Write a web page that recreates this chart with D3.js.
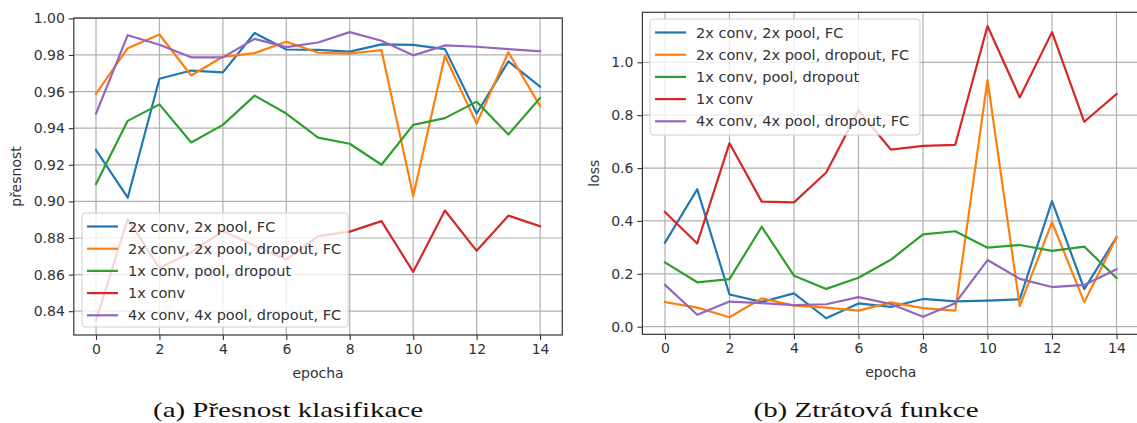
<!DOCTYPE html>
<html>
<head>
<meta charset="utf-8">
<script src="https://cdn.jsdelivr.net/npm/d3@7"></script>
<style>
html,body{margin:0;padding:0;background:#fff;}
svg{display:block;}
</style>
</head>
<body>
<svg id="chart" width="1137" height="423"></svg>
<script>
const epochs = d3.range(0, 15);
const seriesNames = ["2x conv, 2x pool, FC", "2x conv, 2x pool, dropout, FC", "1x conv, pool, dropout", "1x conv", "4x conv, 4x pool, dropout, FC"];
const seriesColors = ["#1f77b4", "#ff7f0e", "#2ca02c", "#d62728", "#9467bd"];

// accuracy (přesnost)
const accConv2Pool2FC = [0.928, 0.902, 0.967, 0.9715, 0.9705, 0.992, 0.983, 0.9828, 0.9818, 0.9858, 0.9855, 0.9832, 0.948, 0.9765, 0.9627];
const accConv2Pool2DropFC = [0.9588, 0.9837, 0.9912, 0.9688, 0.9790, 0.9810, 0.9872, 0.9812, 0.9808, 0.9826, 0.903, 0.9796, 0.9425, 0.9815, 0.952];
const accConv1PoolDrop = [0.9095, 0.944, 0.953, 0.9322, 0.9418, 0.9578, 0.948, 0.9348, 0.9315, 0.92, 0.9418, 0.9455, 0.9545, 0.9365, 0.9565];
const accConv1 = [0.835, 0.8905, 0.8636, 0.8722, 0.8838, 0.8758, 0.8682, 0.8810, 0.8835, 0.8892, 0.8615, 0.8950, 0.8730, 0.8922, 0.8864];
const accConv4Pool4DropFC = [0.948, 0.9908, 0.9856, 0.9787, 0.9787, 0.9888, 0.9843, 0.9868, 0.9925, 0.9878, 0.9798, 0.9852, 0.9845, 0.9832, 0.9820];

// loss
const lossConv2Pool2FC = [0.318, 0.52, 0.122, 0.094, 0.126, 0.032, 0.088, 0.075, 0.105, 0.096, 0.099, 0.104, 0.475, 0.142, 0.338];
const lossConv2Pool2DropFC = [0.093, 0.072, 0.036, 0.107, 0.080, 0.072, 0.061, 0.092, 0.070, 0.061, 0.933, 0.078, 0.395, 0.093, 0.337];
const lossConv1PoolDrop = [0.243, 0.168, 0.180, 0.378, 0.193, 0.143, 0.185, 0.253, 0.349, 0.361, 0.299, 0.309, 0.287, 0.303, 0.184];
const lossConv1 = [0.434, 0.315, 0.694, 0.473, 0.470, 0.583, 0.818, 0.670, 0.684, 0.688, 1.137, 0.867, 1.114, 0.775, 0.880];
const lossConv4Pool4DropFC = [0.158, 0.045, 0.095, 0.089, 0.082, 0.085, 0.112, 0.086, 0.038, 0.089, 0.252, 0.181, 0.150, 0.158, 0.217];

const xTicks = [0, 2, 4, 6, 8, 10, 12, 14];
const accTicks = [0.84, 0.86, 0.88, 0.90, 0.92, 0.94, 0.96, 0.98, 1.00];
const lossTicks = [0.0, 0.2, 0.4, 0.6, 0.8, 1.0];

const captions = ["(a) Přesnost klasifikace", "(b) Ztrátová funkce"];
const yLabels = ["přesnost", "loss"];
const xLabel = "epocha";

const svg = d3.select("#chart");
const FONT = "DejaVu Sans";

function panel(cfg) {
  const x = d3.scaleLinear().domain([-0.7, 14.7]).range([cfg.left, cfg.right]);
  const y = d3.scaleLinear().domain(cfg.yDomain).range([cfg.bottom, cfg.top]);
  const g = svg.append("g");

  const clipId = "clip" + cfg.id;
  svg.append("clipPath").attr("id", clipId).append("rect")
    .attr("x", cfg.left).attr("y", cfg.top)
    .attr("width", cfg.right - cfg.left).attr("height", cfg.bottom - cfg.top);

  // grid
  const grid = g.append("g").attr("clip-path", `url(#${clipId})`);
  grid.selectAll("line.gx").data(xTicks).join("line")
    .attr("x1", d => x(d)).attr("x2", d => x(d))
    .attr("y1", cfg.top).attr("y2", cfg.bottom)
    .attr("stroke", "#b0b0b0").attr("stroke-width", 1.2);
  grid.selectAll("line.gy").data(cfg.yTicks).join("line")
    .attr("y1", d => y(d)).attr("y2", d => y(d))
    .attr("x1", cfg.left).attr("x2", cfg.right)
    .attr("stroke", "#b0b0b0").attr("stroke-width", 1.2);

  // lines
  const line = d3.line().x((d, i) => x(epochs[i])).y(d => y(d));
  const lines = g.append("g").attr("clip-path", `url(#${clipId})`);
  cfg.series.forEach((s, k) => {
    lines.append("path").datum(s)
      .attr("d", line).attr("fill", "none")
      .attr("stroke", seriesColors[k]).attr("stroke-width", 2.2)
      .attr("stroke-linejoin", "round").attr("stroke-linecap", "square");
  });

  // axes
  const xAxis = d3.axisBottom(x).tickValues(xTicks).tickSize(5).tickPadding(4).tickFormat(d3.format("d"));
  const yAxis = d3.axisLeft(y).tickValues(cfg.yTicks).tickSize(5).tickPadding(4).tickFormat(d3.format(cfg.yFmt));
  const gx = g.append("g").attr("transform", `translate(0,${cfg.bottom})`).call(xAxis);
  const gy = g.append("g").attr("transform", `translate(${cfg.left},0)`).call(yAxis);
  [gx, gy].forEach(a => {
    a.select(".domain").remove();
    a.selectAll("line").attr("stroke", "#333").attr("stroke-width", 1.1);
    a.selectAll("text").attr("font-family", FONT).attr("font-size", 14).attr("fill", "#333");
  });

  // spines
  g.append("rect").attr("x", cfg.left).attr("y", cfg.top)
    .attr("width", cfg.right - cfg.left).attr("height", cfg.bottom - cfg.top)
    .attr("fill", "none").attr("stroke", "#333").attr("stroke-width", 1.2);

  // labels
  g.append("text").attr("x", (cfg.left + cfg.right) / 2).attr("y", cfg.bottom + 43)
    .attr("text-anchor", "middle").attr("font-family", FONT).attr("font-size", 14).attr("fill", "#333")
    .text(xLabel);
  g.append("text").attr("transform", `translate(${cfg.yLabelX},${(cfg.top + cfg.bottom) / 2}) rotate(-90)`)
    .attr("text-anchor", "middle").attr("font-family", FONT).attr("font-size", 14).attr("fill", "#333")
    .text(cfg.yLabel);

  // legend
  const L = cfg.legend;
  const lg = g.append("g");
  lg.append("rect").attr("x", L.x).attr("y", L.y).attr("width", L.w).attr("height", L.h)
    .attr("rx", 3).attr("fill", "#fff").attr("fill-opacity", 0.8)
    .attr("stroke", "#d0d0d0").attr("stroke-width", 1);
  seriesNames.forEach((n, k) => {
    const yy = L.y + 13.5 + k * 22.2;
    lg.append("line").attr("x1", L.x + 5).attr("x2", L.x + 36).attr("y1", yy).attr("y2", yy)
      .attr("stroke", seriesColors[k]).attr("stroke-width", 2.2);
    lg.append("text").attr("x", L.x + 46).attr("y", yy + 5).attr("font-family", FONT)
      .attr("font-size", 14.5).attr("fill", "#333").text(n);
  });

  // caption
  svg.append("text").attr("x", cfg.capX).attr("y", 417).attr("text-anchor", "middle")
    .attr("font-family", "Liberation Serif").attr("font-size", 22).attr("fill", "#111")
    .attr("textLength", cfg.capW).attr("lengthAdjust", "spacingAndGlyphs")
    .text(cfg.caption);
}

panel({
  id: "a", left: 73.8, right: 562.3, top: 18, bottom: 335,
  yDomain: [0.827, 1.0002], yTicks: accTicks, yFmt: ".2f",
  series: [accConv2Pool2FC, accConv2Pool2DropFC, accConv1PoolDrop, accConv1, accConv4Pool4DropFC],
  yLabel: yLabels[0], yLabelX: 21,
  legend: {x: 82, y: 213, w: 266, h: 114},
  caption: captions[0], capX: 288, capW: 270
});

panel({
  id: "b", left: 642.4, right: 1139.1, top: 12.3, bottom: 334.3,
  yDomain: [-0.0287, 1.189], yTicks: lossTicks, yFmt: ".1f",
  series: [lossConv2Pool2FC, lossConv2Pool2DropFC, lossConv1PoolDrop, lossConv1, lossConv4Pool4DropFC],
  yLabel: yLabels[1], yLabelX: 599,
  legend: {x: 650, y: 19, w: 270, h: 116},
  caption: captions[1], capX: 866, capW: 225
});
</script>
</body>
</html>
